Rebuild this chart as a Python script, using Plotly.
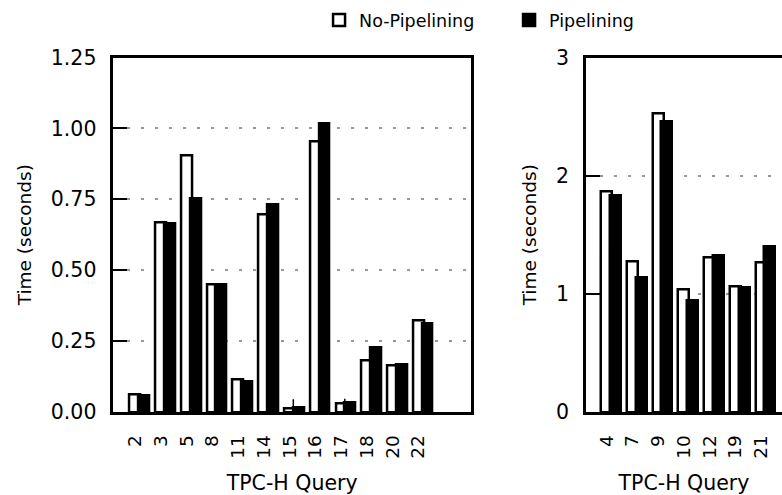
import numpy as np
import plotly.graph_objects as go

# ---- data ----
left_queries = ["2", "3", "5", "8", "11", "14", "15", "16", "17", "18", "20", "22"]
left_nopipe = [0.062, 0.669, 0.906, 0.448, 0.113, 0.697, 0.014, 0.953, 0.030, 0.183, 0.163, 0.324]
left_pipe = [0.059, 0.665, 0.753, 0.448, 0.106, 0.732, 0.015, 1.016, 0.033, 0.228, 0.168, 0.313]
left_pipe_err = [0, 0, 0, 0, 0, 0, 0.030, 0, 0.014, 0, 0, 0]

right_queries = ["4", "7", "9", "10", "12", "19", "21"]
right_nopipe = [1.864, 1.272, 2.527, 1.038, 1.306, 1.060, 1.269]
right_pipe = [1.833, 1.136, 2.462, 0.942, 1.322, 1.052, 1.399]

left_yticks = [0.0, 0.25, 0.5, 0.75, 1.0, 1.25]
left_yticklabels = ["0.00", "0.25", "0.50", "0.75", "1.00", "1.25"]
right_yticks = [0, 1, 2, 3]

# ---- style ----
W, H = 782, 495
BAR_W = 0.42
SHIFT = 0.34
FONT = "DejaVu Sans"
H_FS = 20.5   # horizontal text
V_FS = 18.5   # vertical text

fig = go.Figure()

lx = np.arange(len(left_queries))
rx = np.arange(len(right_queries))

def add_pair(xpos, nop, pip, xa, ya, legend):
    fig.add_trace(go.Bar(x=xpos, y=nop, width=BAR_W, name="No-Pipelining",
                         marker=dict(color="white", line=dict(color="black", width=2.5)),
                         xaxis=xa, yaxis=ya, showlegend=legend))
    fig.add_trace(go.Bar(x=xpos + SHIFT, y=pip, width=BAR_W, name="Pipelining",
                         marker=dict(color="black", line=dict(color="black", width=2.5)),
                         xaxis=xa, yaxis=ya, showlegend=legend))

add_pair(lx, left_nopipe, left_pipe, "x", "y", True)
add_pair(rx, right_nopipe, right_pipe, "x2", "y2", False)

err = np.array(left_pipe_err)
sel = err > 0
fig.add_trace(go.Scatter(x=lx[sel] + 0.14, y=np.array(left_pipe)[sel], mode="markers",
                         marker=dict(size=1, color="rgba(0,0,0,0)"),
                         error_y=dict(type="data", array=err[sel], color="black",
                                      thickness=1.5, width=0),
                         showlegend=False, xaxis="x", yaxis="y"))

ydom = [1 - 412 / H, 1 - 57.5 / H]
common_y = dict(showline=True, linecolor="black", linewidth=2.5,
                ticks="inside", ticklen=14, tickwidth=2, tickcolor="black",
                showgrid=True, gridcolor="#999999", gridwidth=1.5, griddash="3px,11px",
                zeroline=False, tickfont=dict(family=FONT, size=H_FS, color="black"),
                ticklabelstandoff=10, automargin=False,
                title=dict(text="Time (seconds)", font=dict(family=FONT, size=V_FS, color="black")),
                domain=ydom)
common_x = dict(showline=True, linecolor="black", linewidth=2.5, mirror=True,
                ticks="", showgrid=False, zeroline=False, tickangle=-90,
                tickfont=dict(family=FONT, size=V_FS, color="black"),
                ticklabelstandoff=13, automargin=False,
                title=dict(text="TPC-H Query", font=dict(family=FONT, size=H_FS, color="black"),
                           standoff=18))

fig.update_layout(
    width=W, height=H, margin=dict(l=0, r=0, t=0, b=0, autoexpand=False),
    paper_bgcolor="white", plot_bgcolor="white",
    barmode="overlay", bargap=0,
    font=dict(family=FONT, color="black"),
    xaxis=dict(common_x, domain=[113.3 / W, 471 / W], range=[-0.85, 13.04],
               tickvals=lx, ticktext=left_queries, anchor="y"),
    yaxis=dict(common_y, range=[0, 1.25], tickvals=left_yticks, ticktext=left_yticklabels,
               mirror=True, anchor="x"),
    xaxis2=dict(common_x, domain=[586 / W, 1.0], range=[-0.80, 6.81],
                tickvals=rx, ticktext=right_queries, anchor="y2"),
    yaxis2=dict(common_y, range=[0, 3], tickvals=right_yticks, mirror=False, anchor="x2"),
    legend=dict(orientation="h", x=0.408, xanchor="left", y=1 - 20 / H, yanchor="middle",
                font=dict(family=FONT, size=17.5, color="black"),
                entrywidth=145, entrywidthmode="pixels", bgcolor="rgba(0,0,0,0)"),
)

fig.write_html("out.html")
